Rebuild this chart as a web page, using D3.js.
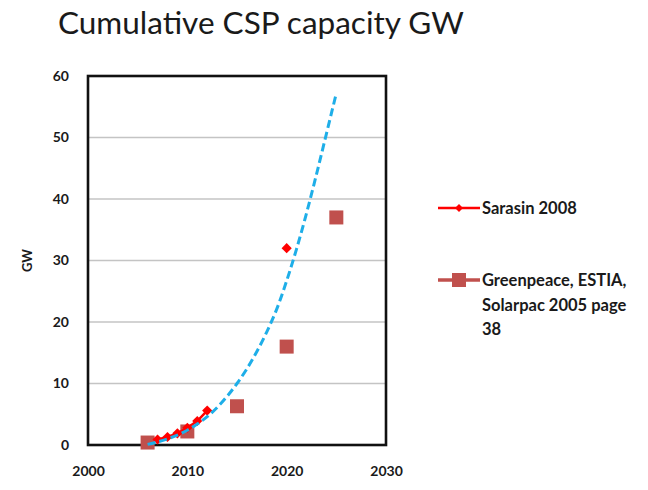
<!DOCTYPE html>
<html>
<head>
<meta charset="utf-8">
<script src="https://cdn.jsdelivr.net/npm/d3@7"></script>
<style>
  html, body { margin: 0; padding: 0; background: #fff; }
  svg { display: block; }
  text { font-family: Lato, "Open Sans", sans-serif; fill: #1a1a1a; }
</style>
</head>
<body>
<svg id="chart" width="648" height="490"></svg>
<script>
// ---- data ----
const title = "Cumulative CSP capacity GW";
const yAxisTitle = "GW";
const xTicks = [2000, 2010, 2020, 2030];
const yTicks = [0, 10, 20, 30, 40, 50, 60];

const sarasinYears  = [2007, 2008, 2009, 2010, 2011, 2012, 2020];
const sarasinValues = [0.9, 1.3, 1.9, 2.8, 3.9, 5.6, 32];
const sarasinLabel  = "Sarasin 2008";

const greenpeaceYears  = [2006, 2010, 2015, 2020, 2025];
const greenpeaceValues = [0.4, 2.2, 6.3, 16, 37];
const greenpeaceLabel  = ["Greenpeace, ESTIA,", "Solarpac 2005 page", "38"];

const trendYears  = [2006, 2007, 2008, 2009, 2010, 2011, 2012, 2013, 2014, 2015, 2016, 2017, 2018, 2019, 2020, 2021, 2022, 2023, 2024, 2025];
const trendValues = [0.1, 0.5, 1.0, 1.6, 2.4, 3.4, 4.6, 6.1, 7.9, 10.0, 12.4, 15.2, 18.4, 22.1, 26.7, 31.9, 37.7, 44.0, 50.6, 57.2];

// ---- drawing ----
const svg = d3.select("#chart");
const x = d3.scaleLinear().domain([2000, 2030]).range([88, 386]);
const y = d3.scaleLinear().domain([0, 60]).range([445, 76]);

svg.append("text").attr("x", 58).attr("y", 34)
  .attr("font-size", 31.5).text(title);

// gridlines
svg.append("g").selectAll("line").data(yTicks.filter(d => d > 0 && d < 60)).join("line")
  .attr("x1", x(2000)).attr("x2", x(2030))
  .attr("y1", d => y(d)).attr("y2", d => y(d))
  .attr("stroke", "#c4c4c4").attr("stroke-width", 1.5);

// axes (labels only, no tick marks)
const yAxis = svg.append("g").attr("transform", `translate(${x(2000)},0)`)
  .call(d3.axisLeft(y).tickValues(yTicks).tickSize(0).tickPadding(19));
const xAxis = svg.append("g").attr("transform", `translate(0,${y(0)})`)
  .call(d3.axisBottom(x).tickValues(xTicks).tickFormat(d3.format("d")).tickSize(0).tickPadding(21));
[yAxis, xAxis].forEach(a => {
  a.select(".domain").remove();
  a.selectAll("text").attr("font-size", 14).attr("font-weight", "bold")
    .attr("font-family", "Lato, sans-serif").attr("fill", "#1a1a1a");
});

svg.append("text").attr("transform", `translate(32,${y(30)}) rotate(-90)`)
  .attr("text-anchor", "middle").attr("font-size", 13).attr("font-weight", "bold")
  .text(yAxisTitle);

// plot frame
svg.append("rect").attr("x", x(2000)).attr("y", y(60))
  .attr("width", x(2030) - x(2000)).attr("height", y(0) - y(60))
  .attr("fill", "none").attr("stroke", "#111").attr("stroke-width", 2.6);

// Greenpeace squares
const sq = 14;
svg.append("g").selectAll("rect").data(greenpeaceYears.map((yr, i) => [yr, greenpeaceValues[i]])).join("rect")
  .attr("x", d => x(d[0]) - sq / 2).attr("y", d => y(d[1]) - sq / 2)
  .attr("width", sq).attr("height", sq).attr("fill", "#c0504d");

// Sarasin line (contiguous years only) and diamonds
const sarasin = sarasinYears.map((yr, i) => ({ yr, v: sarasinValues[i] }));
const line = d3.line().x(d => x(d.yr)).y(d => y(d.v));
const contiguous = sarasin.filter(d => d.yr <= 2012);
svg.append("path").attr("d", line(contiguous)).attr("fill", "none")
  .attr("stroke", "#ff0000").attr("stroke-width", 2.5);
const diamond = d3.symbol().type(d3.symbolDiamond2).size(66);
svg.append("g").selectAll("path").data(sarasin).join("path")
  .attr("transform", d => `translate(${x(d.yr)},${y(d.v)})`)
  .attr("d", diamond).attr("fill", "#ff0000");

// trend line
const trend = trendYears.map((yr, i) => ({ yr, v: trendValues[i] }));
svg.append("path").attr("d", d3.line().x(d => x(d.yr)).y(d => y(d.v)).curve(d3.curveCatmullRom)(trend))
  .attr("fill", "none").attr("stroke", "#1eaee8").attr("stroke-width", 3)
  .attr("stroke-dasharray", "8,4");

// legend
const lg = svg.append("g");
lg.append("line").attr("x1", 438).attr("x2", 480).attr("y1", 208).attr("y2", 208)
  .attr("stroke", "#ff0000").attr("stroke-width", 2.5);
lg.append("path").attr("transform", "translate(459,208)").attr("d", d3.symbol().type(d3.symbolDiamond2).size(40)())
  .attr("fill", "#ff0000");
lg.append("text").attr("x", 482).attr("y", 214).attr("font-size", 16.5).attr("font-weight", "bold").text(sarasinLabel);

lg.append("line").attr("x1", 438).attr("x2", 480).attr("y1", 280).attr("y2", 280)
  .attr("stroke", "#c0504d").attr("stroke-width", 3.5);
lg.append("rect").attr("x", 452).attr("y", 273).attr("width", 14).attr("height", 14).attr("fill", "#c0504d");
lg.selectAll("text.gp").data(greenpeaceLabel).join("text").attr("class", "gp")
  .attr("x", 482).attr("y", (d, i) => 286 + i * 24.5)
  .attr("font-size", 16.5).attr("font-weight", "bold").text(d => d);
</script>
</body>
</html>
